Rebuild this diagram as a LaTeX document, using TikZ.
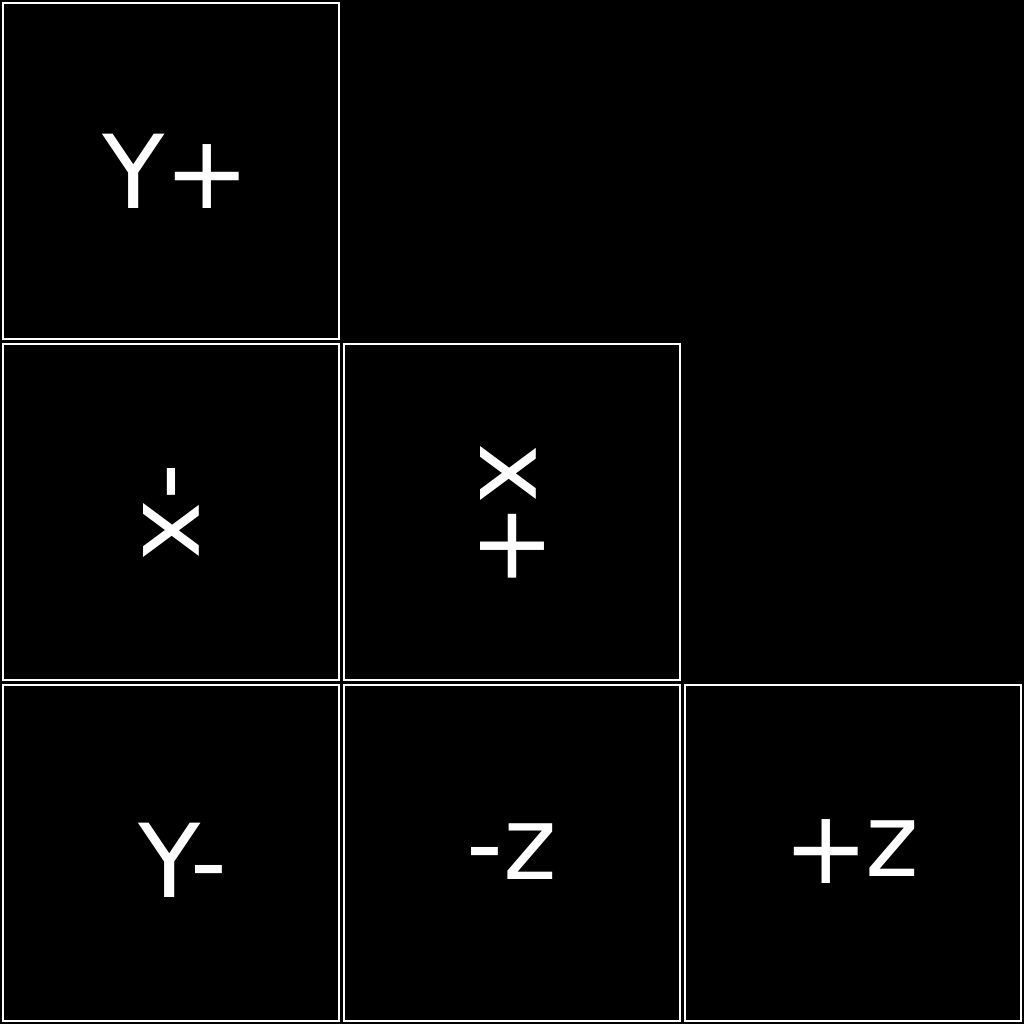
\documentclass[tikz,border=0pt]{standalone}
\usepackage{fontspec}
\setmainfont{DejaVu Sans}
\usetikzlibrary{positioning}
\tikzset{
  face/.style ={rectangle, draw=white, line width=2pt, fill=black,
                minimum size=336pt, inner sep=0pt, outer sep=0pt},
  lab/.style  ={text=white, inner sep=0pt, font=\fontsize{102}{102}\selectfont},
  labr/.style ={lab, rotate=-90}
}
\begin{document}
\begin{tikzpicture}[x=1pt, y=-1pt, node distance=5pt and 5pt]
  \fill[black] (0,0) rectangle (1024,1024);
  \useasboundingbox (0,0) rectangle (1024,1024);

  % cube faces
  \node[face] (yp) at (171,171) {};
  \node[face,below=of yp] (xm) {};
  \node[face,right=of xm] (xp) {};
  \node[face,below=of xm] (ym) {};
  \node[face,right=of ym] (zm) {};
  \node[face,right=of zm] (zp) {};

  % face labels
  \node[lab,xshift=5pt] (typ) at (yp) {Y+};
  \node[labr] (txm) at (xm) {-x};
  \node[labr,xshift=4pt] (txp) at (xp) {x+};
  \node[lab,xshift=12pt,yshift=-7pt] (tym) at (ym) {Y\kern-11pt-};
  \node[lab,yshift=1pt] (tzm) at (zm) {-z};
  \node[lab,xshift=-2pt,yshift=1pt] (tzp) at (zp) {+\kern-3pt\raisebox{7pt}{z}};
\end{tikzpicture}
\end{document}
